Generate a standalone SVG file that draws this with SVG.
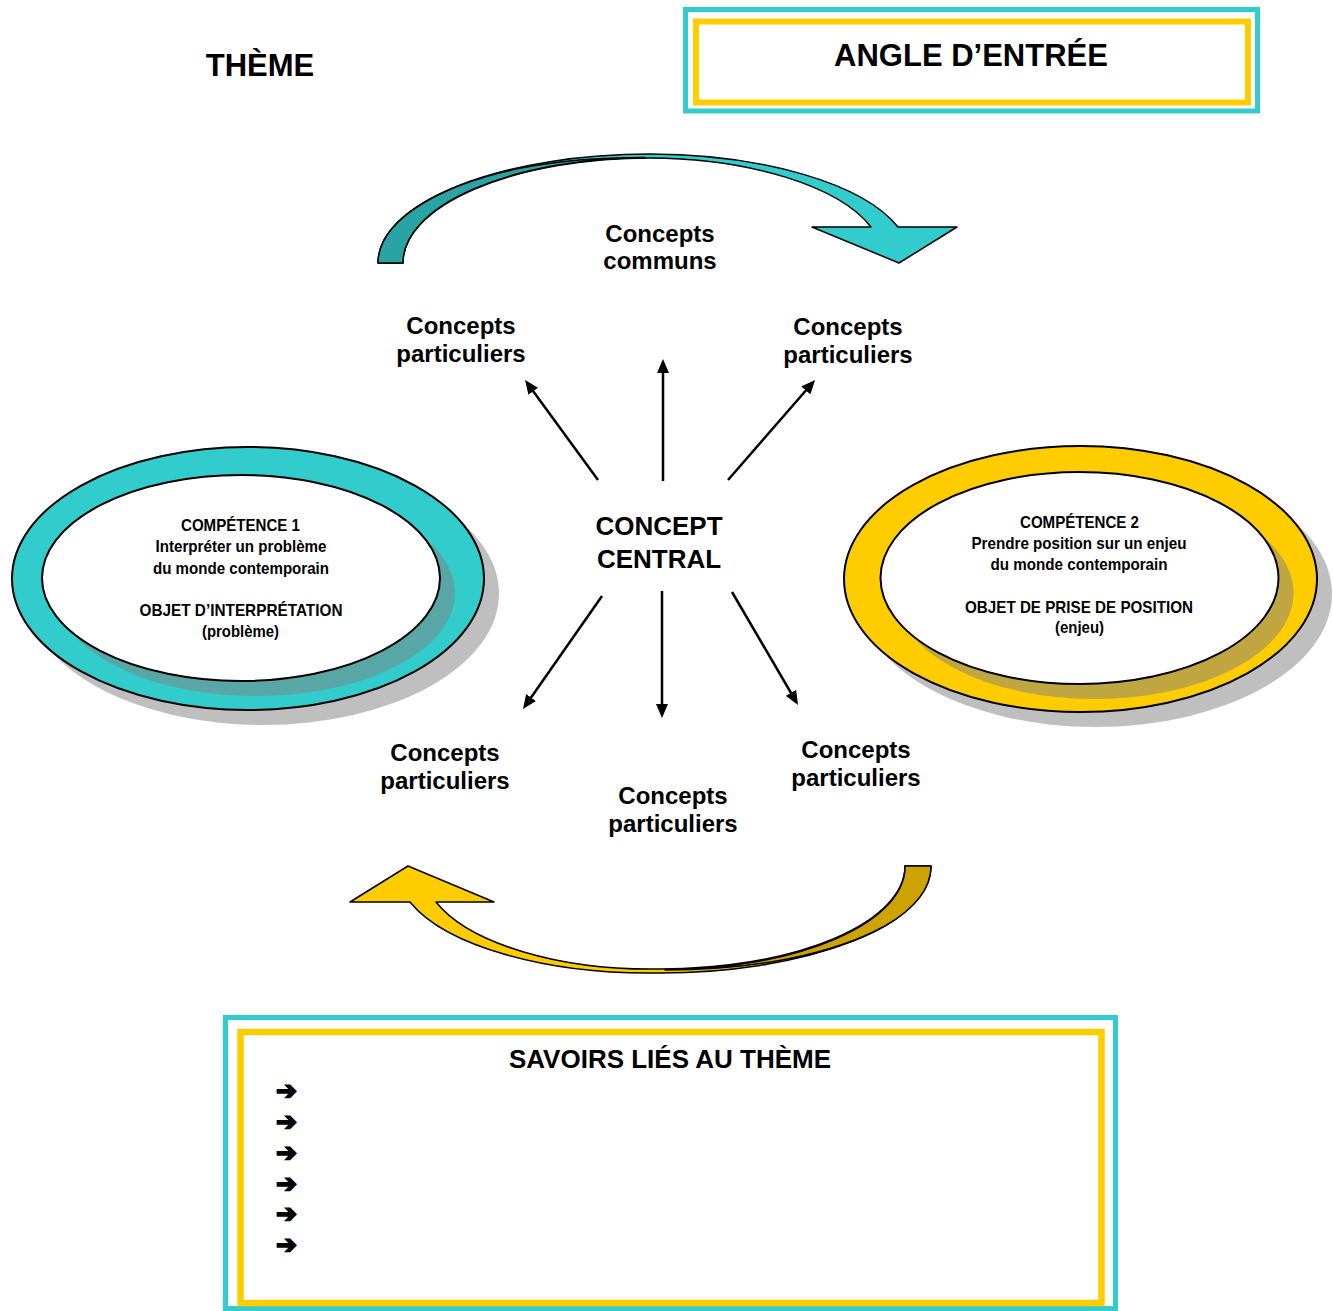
<svg xmlns="http://www.w3.org/2000/svg" width="1333" height="1311" viewBox="0 0 1333 1311">
<defs>
<marker id="ah" viewBox="0 0 14 12" refX="10" refY="6" markerWidth="14" markerHeight="12" markerUnits="userSpaceOnUse" orient="auto">
<path d="M0,0 L14,6 L0,12 z" fill="#000"/>
</marker>
</defs>
<style>
.t{font-family:"Liberation Sans",Arial,sans-serif;font-weight:bold;fill:#000;text-anchor:middle}
.n{font-family:"Liberation Sans Narrow","Liberation Sans",Arial,sans-serif;font-weight:bold;font-size:17px;fill:#000;text-anchor:middle}
.lbl{font-size:24px}
.ol{stroke:#000;stroke-width:2}
.shadow{fill:#808080;fill-opacity:0.5}
.con{stroke:#000;stroke-width:2.5;fill:none;marker-end:url(#ah)}
.arr{stroke:#000;stroke-width:1.5;stroke-linejoin:round}
.bul{font-family:"DejaVu Sans",sans-serif;font-weight:bold;font-size:25px;fill:#000;stroke:#000;stroke-width:1.6}
</style>
<rect width="1333" height="1311" fill="#fff"/>

<g id="theme"><text class="t" x="260" y="76" font-size="31">THÈME</text></g>

<g id="angle">
<rect x="685.5" y="9.5" width="572" height="101.5" fill="#fff" stroke="#33CCCC" stroke-width="5"/>
<rect x="696" y="21.5" width="552" height="81" fill="none" stroke="#FFCC00" stroke-width="6"/>
<text class="t" x="971" y="66" font-size="31">ANGLE D’ENTRÉE</text>
</g>

<g id="arrow-top">
<path class="arr" fill="#33CCCC" d="M378,263 A272,109 0 0 1 650,154 A262,105 0 0 1 898,227 L957,227 L899,263 L812,227 L871,227 A236,101 0 0 0 650,158 A247,105 0 0 0 403,263 Z"/>
<path class="arr" fill="#29A3A3" d="M378,263 A272,109 0 0 1 425,202 C480,170 560,157 645,157.5 A247,105 0 0 0 403,263 Z"/>
</g>

<g id="arrow-bottom">
<path class="arr" fill="#FFCC00" d="M931,866 A271,107 0 0 1 660,973 A252,104 0 0 1 410,902 L350,902 L408,866 L494,902 L436,902 A228,100 0 0 0 660,969 A245,103 0 0 0 905,866 Z"/>
<path class="arr" fill="#CCA300" d="M931,866 A271,107 0 0 1 885,926 C830,956 750,970 665,970 A245,103 0 0 0 905,866 Z"/>
</g>

<g id="competence1">
<ellipse class="shadow" cx="263" cy="593.5" rx="236" ry="131.5"/>
<ellipse class="ol" cx="248" cy="578.5" rx="236" ry="131.5" fill="#33CCCC"/>
<ellipse class="shadow" cx="256" cy="593" rx="199" ry="103"/>
<ellipse class="ol" cx="241" cy="578" rx="199" ry="103" fill="#fff"/>
<text class="n" x="240.5" y="531" textLength="119" lengthAdjust="spacingAndGlyphs">COMPÉTENCE 1</text>
<text class="n" x="241" y="552" textLength="171" lengthAdjust="spacingAndGlyphs">Interpréter un problème</text>
<text class="n" x="241" y="573.5" textLength="176" lengthAdjust="spacingAndGlyphs">du monde contemporain</text>
<text class="n" x="241" y="616" textLength="203" lengthAdjust="spacingAndGlyphs">OBJET D’INTERPRÉTATION</text>
<text class="n" x="240.5" y="636.5" textLength="77" lengthAdjust="spacingAndGlyphs">(problème)</text>
</g>

<g id="competence2">
<ellipse class="shadow" cx="1095.5" cy="594" rx="236.5" ry="133"/>
<ellipse class="ol" cx="1080.5" cy="579" rx="236.5" ry="133" fill="#FFCC00"/>
<ellipse class="shadow" cx="1094.5" cy="593" rx="199" ry="106"/>
<ellipse class="ol" cx="1079.5" cy="578" rx="199" ry="106" fill="#fff"/>
<text class="n" x="1079.5" y="527.5" textLength="119" lengthAdjust="spacingAndGlyphs">COMPÉTENCE 2</text>
<text class="n" x="1079" y="549" textLength="215" lengthAdjust="spacingAndGlyphs">Prendre position sur un enjeu</text>
<text class="n" x="1079" y="570" textLength="177" lengthAdjust="spacingAndGlyphs">du monde contemporain</text>
<text class="n" x="1079" y="612.5" textLength="228" lengthAdjust="spacingAndGlyphs">OBJET DE PRISE DE POSITION</text>
<text class="n" x="1079.5" y="633" textLength="49" lengthAdjust="spacingAndGlyphs">(enjeu)</text>
</g>

<g id="concept-central">
<text class="t" x="659" y="535" font-size="26">CONCEPT</text>
<text class="t" x="659" y="567.5" font-size="26">CENTRAL</text>
</g>

<g id="concepts-communs">
<text class="t lbl" x="660" y="242">Concepts</text>
<text class="t lbl" x="660" y="269">communs</text>
</g>
<g id="cp-top-left">
<text class="t lbl" x="461" y="334">Concepts</text>
<text class="t lbl" x="461" y="362">particuliers</text>
</g>
<g id="cp-top-right">
<text class="t lbl" x="848" y="335">Concepts</text>
<text class="t lbl" x="848" y="363">particuliers</text>
</g>
<g id="cp-bottom-left">
<text class="t lbl" x="445" y="761">Concepts</text>
<text class="t lbl" x="445" y="789">particuliers</text>
</g>
<g id="cp-bottom-center">
<text class="t lbl" x="673" y="804">Concepts</text>
<text class="t lbl" x="673" y="832">particuliers</text>
</g>
<g id="cp-bottom-right">
<text class="t lbl" x="856" y="758">Concepts</text>
<text class="t lbl" x="856" y="786">particuliers</text>
</g>

<g id="connectors">
<line class="con" x1="598" y1="480" x2="527.4" y2="383.2"/>
<line class="con" x1="663" y1="481" x2="663" y2="363"/>
<line class="con" x1="728" y1="480" x2="812.4" y2="383"/>
<line class="con" x1="602" y1="596" x2="525.3" y2="705.7"/>
<line class="con" x1="662" y1="591" x2="662" y2="714"/>
<line class="con" x1="732" y1="592" x2="796" y2="701.5"/>
</g>

<g id="savoirs">
<rect x="225.5" y="1017.5" width="890" height="291" fill="#fff" stroke="#33CCCC" stroke-width="5"/>
<rect x="240.5" y="1032" width="861" height="271" fill="none" stroke="#FFCC00" stroke-width="6.5"/>
<text class="t" x="670" y="1068" font-size="26">SAVOIRS LIÉS AU THÈME</text>
<text class="bul" x="276" y="1099">➔</text>
<text class="bul" x="276" y="1130">➔</text>
<text class="bul" x="276" y="1161">➔</text>
<text class="bul" x="276" y="1192">➔</text>
<text class="bul" x="276" y="1222">➔</text>
<text class="bul" x="276" y="1253">➔</text>
</g>
</svg>
